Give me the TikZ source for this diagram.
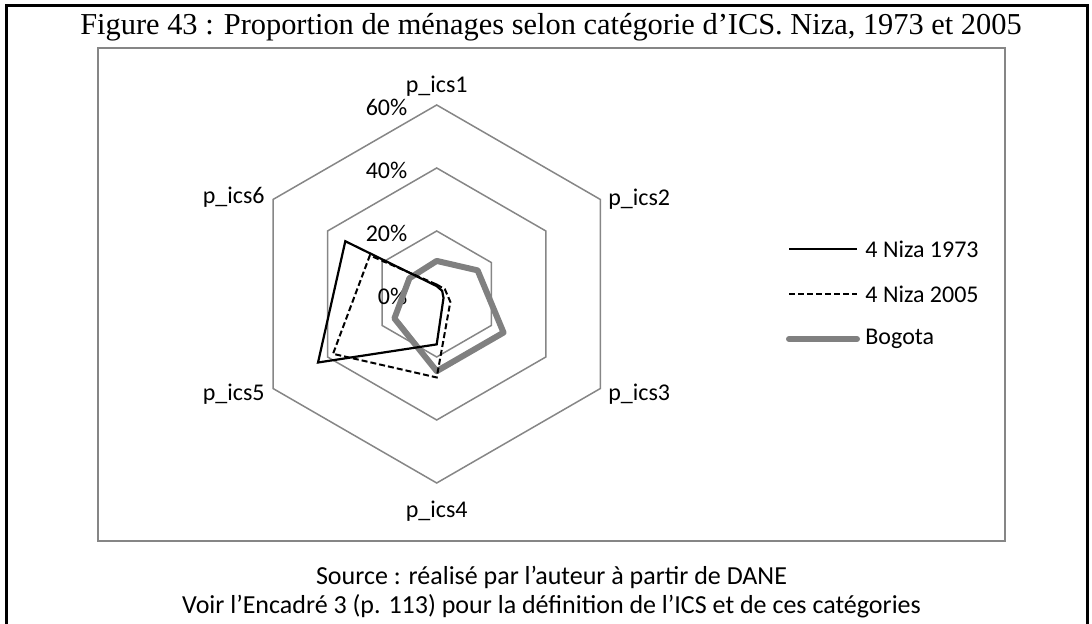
\documentclass[tikz,border=0pt]{standalone}
\usepackage{fontspec}
\setmainfont{Carlito}
\newfontfamily\titlefont{Liberation Serif}
\usepackage{tikz}
\usetikzlibrary{positioning, shapes.geometric}
\definecolor{gridgray}{RGB}{134,134,134}
\definecolor{bogogray}{RGB}{128,128,128}
\tikzset{
    ring/.style={regular polygon, regular polygon sides=6, shape border rotate=30,
        draw=gridgray, line width=0.75pt, inner sep=0pt, outer sep=0pt},
    axislabel/.style={inner sep=0pt, font=\fontsize{12}{14}\selectfont},
    pctlabel/.style={inner sep=0pt, anchor=east, xshift=-14.5pt, yshift=-1.2pt,
        font=\fontsize{12}{14}\selectfont},
    serie73/.style={draw=black, line width=1.1pt},
    serie05/.style={draw=black, line width=1pt, dash pattern=on 3pt off 1.5pt},
    bogota/.style={draw=bogogray, line width=3pt, line join=round, line cap=round},
    legtext/.style={inner sep=0pt, anchor=west, font=\fontsize{12}{14}\selectfont},
    textnode/.style={inner sep=0pt, anchor=base, font=\fontsize{13}{15}\selectfont}}

\begin{document}
\begin{tikzpicture}[x=0.5pt, y=0.5pt]
\useasboundingbox (0,0) rectangle (1092,624);

% frame and chart area
\draw[line width=1.5pt] (6,0) -- (6,618) -- (1087,618) -- (1087,0);
\draw[draw=gridgray, line width=0.9pt] (98,83) rectangle (1005,576);
\node[inner sep=0pt, anchor=base, font=\titlefont\fontsize{15.2}{17}\selectfont]
    (title) at (551,589) {Figure 43 : Proportion de ménages selon catégorie d’ICS. Niza, 1973 et 2005};

% grid
\coordinate (c) at (436.7,330);
\node[ring, minimum size=63pt]  (r20) at (c) {};
\node[ring, minimum size=126pt] (r40) at (c) {};
\node[ring, minimum size=189pt] (r60) at (c) {};

\begin{scope}[shift={(c)}, x=1.575pt, y=1.575pt]
\node[pctlabel] (p0)  at (0,0)  {0\%};
\node[pctlabel] (p20) at (0,20) {20\%};
\node[pctlabel] (p40) at (0,40) {40\%};
\node[pctlabel] (p60) at (0,60) {60\%};

\node[axislabel, anchor=south, yshift=4pt]   (ics1) at (90:60)  {p\_ics1};
\node[axislabel, anchor=west, xshift=3.8pt]  (ics2) at (30:60)  {p\_ics2};
\node[axislabel, anchor=west, xshift=3.8pt, yshift=-2.7pt] (ics3) at (-30:60) {p\_ics3};
\node[axislabel, anchor=north, yshift=-9pt]  (ics4) at (-90:60) {p\_ics4};
\node[axislabel, anchor=east, xshift=-4pt, yshift=-2.7pt]  (ics5) at (210:60) {p\_ics5};
\node[axislabel, anchor=east, xshift=-4pt, yshift=1.4pt]   (ics6) at (150:60) {p\_ics6};

% Bogota
\coordinate (g1) at (90:10.5);
\coordinate (g2) at (30:15);
\coordinate (g3) at (-30:24.5);
\coordinate (g4) at (-90:24.5);
\coordinate (g5) at (210:15.5);
\coordinate (g6) at (150:10);
\draw[bogota] (g1) -- (g2) -- (g3) -- (g4) -- (g5) -- (g6) -- cycle;

% 4 Niza 1973
\coordinate (a1) at (90:2.5);
\coordinate (a2) at (30:2);
\coordinate (a3) at (-30:2.5);
\coordinate (a4) at (-90:16);
\coordinate (a5) at (210:43.5);
\coordinate (a6) at (150:33.5);
\draw[serie73] (a1) -- (a2) -- (a3) -- (a4) -- (a5) -- (a6) -- cycle;

% 4 Niza 2005
\coordinate (b1) at (90:3);
\coordinate (b2) at (30:3);
\coordinate (b3) at (-30:5);
\coordinate (b4) at (-90:26.5);
\coordinate (b5) at (210:38);
\coordinate (b6) at (150:24.5);
\draw[serie05] (b1) -- (b2) -- (b3) -- (b4) -- (b5) -- (b6) -- cycle;
\end{scope}

% legend
\coordinate (l1a) at (789,375);
\coordinate (l1b) at (857,375);
\coordinate (l2a) at (789,330);
\coordinate (l2b) at (857,330);
\coordinate (l3a) at (789,285);
\coordinate (l3b) at (857,285);
\draw[serie73] (l1a) -- (l1b);
\draw[serie05] (l2a) -- (l2b);
\draw[bogota] (l3a) -- (l3b);
\node[legtext] (leg73) at (865,375) {4 Niza 1973};
\node[legtext] (leg05) at (865,330) {4 Niza 2005};
\node[legtext] (legbo) at (865,285) {Bogota};

% source
\node[textnode] (source) at (551.5,39) {Source : réalisé par l’auteur à partir de DANE};
\node[textnode] (voir)   at (551.5,10) {Voir l’Encadré 3 (p. 113) pour la définition de l’ICS et de ces catégories};
\end{tikzpicture}
\end{document}
